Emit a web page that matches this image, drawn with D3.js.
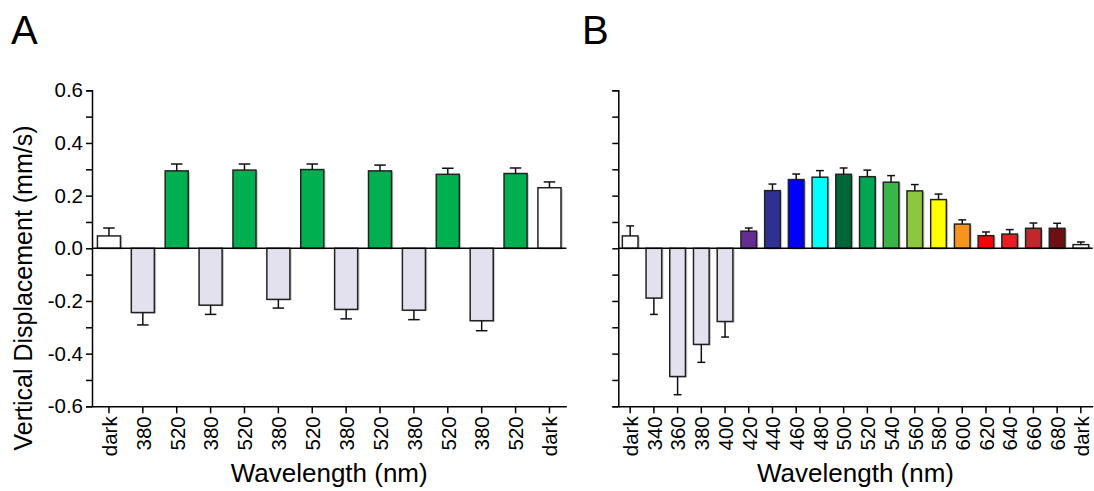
<!DOCTYPE html>
<html>
<head>
<meta charset="utf-8">
<script src="https://cdn.jsdelivr.net/npm/d3@7"></script>
<style>
  body { margin: 0; background: #fff; }
  svg text { font-family: "Liberation Sans", Arial, sans-serif; fill: #000; }
</style>
</head>
<body>
<svg id="chart" width="1094" height="491"></svg>
<script>
// panel A: alternating 380 / 520 nm
var catsA = ["dark", "380", "520", "380", "520", "380", "520", "380", "520", "380", "520", "380", "520", "dark"];
var meanA = [0.047, -0.244, 0.294, -0.216, 0.297, -0.194, 0.299, -0.232, 0.294, -0.235, 0.281, -0.275, 0.284, 0.230];
var semA  = [0.030, 0.047, 0.026, 0.035, 0.023, 0.033, 0.021, 0.036, 0.022, 0.036, 0.023, 0.038, 0.021, 0.022];

// panel B: wavelength sweep
var catsB = ["dark", "340", "360", "380", "400", "420", "440", "460", "480", "500", "520", "540", "560", "580", "600", "620", "640", "660", "680", "dark"];
var meanB = [0.047, -0.189, -0.487, -0.365, -0.278, 0.065, 0.219, 0.261, 0.270, 0.281, 0.272, 0.251, 0.218, 0.185, 0.092, 0.048, 0.054, 0.076, 0.076, 0.014];
var semB  = [0.038, 0.062, 0.069, 0.068, 0.059, 0.012, 0.025, 0.021, 0.025, 0.024, 0.025, 0.025, 0.024, 0.021, 0.016, 0.014, 0.017, 0.020, 0.019, 0.010];

var yMajor = [-0.6, -0.4, -0.2, 0, 0.2, 0.4, 0.6];
var yMinor = [-0.5, -0.3, -0.1, 0.1, 0.3, 0.5];

var lav = "#e4e1ee";
var colorA = { "dark": "#ffffff", "380": lav, "520": "#00b050" };
var colorB = {
  "dark": "#ffffff", "340": lav, "360": lav, "380": lav, "400": lav,
  "420": "#662d91", "440": "#2e3192", "460": "#0000ff", "480": "#00ffff",
  "500": "#006838", "520": "#00a651", "540": "#39b54a", "560": "#8dc63f",
  "580": "#ffff00", "600": "#f7941d", "620": "#ff0000", "640": "#ed1c24",
  "660": "#c1272d", "680": "#6e0f14"
};

var svg = d3.select("#chart");

svg.append("defs").append("clipPath").attr("id", "clipB")
  .append("rect").attr("x", 578).attr("y", 0).attr("width", 600).attr("height", 491);

function panel(opt) {
  var cats = opt.cats, mean = opt.mean, sem = opt.sem;
  var y = d3.scaleLinear().domain([-0.6, 0.6]).range([406.3, 90.3]);
  var x = d3.scaleBand().domain(d3.range(cats.length))
      .range([opt.x0, opt.x1]).paddingInner(opt.pad).paddingOuter(opt.pad / 2);

  var g = svg.append("g");

  // shadow behind bars
  g.selectAll("rect.shadow").data(mean).enter().append("rect")
    .attr("x", function(d, i) { return x(i) + 1.8; })
    .attr("y", function(d) { return Math.min(y(d), y(0)) + 1; })
    .attr("width", x.bandwidth())
    .attr("height", function(d) { return Math.abs(y(d) - y(0)); })
    .attr("fill", "#c8c8c8");

  g.selectAll("rect.bar").data(mean).enter().append("rect")
    .attr("x", function(d, i) { return x(i); })
    .attr("y", function(d) { return Math.min(y(d), y(0)); })
    .attr("width", x.bandwidth())
    .attr("height", function(d) { return Math.abs(y(d) - y(0)); })
    .attr("fill", function(d, i) { return opt.color[cats[i]]; })
    .attr("stroke", "#222").attr("stroke-width", 1.5);

  // error bars, drawn outward
  var cap = x.bandwidth() * 0.25;
  mean.forEach(function(m, i) {
    var cx = x(i) + x.bandwidth() / 2;
    var tip = m >= 0 ? m + sem[i] : m - sem[i];
    g.append("line").attr("x1", cx).attr("x2", cx).attr("y1", y(m)).attr("y2", y(tip))
      .attr("stroke", "#111").attr("stroke-width", 1.5);
    g.append("line").attr("x1", cx - cap).attr("x2", cx + cap).attr("y1", y(tip)).attr("y2", y(tip))
      .attr("stroke", "#111").attr("stroke-width", 1.5);
  });

  // zero line
  g.append("line").attr("x1", opt.x0).attr("x2", opt.x1).attr("y1", y(0)).attr("y2", y(0))
    .attr("stroke", "#000").attr("stroke-width", 1.5);

  // y axis
  var ya = g.append("g").attr("transform", "translate(" + opt.x0 + ",0)")
    .call(d3.axisLeft(y).tickValues(yMajor).tickSize(6).tickPadding(3)
      .tickFormat(function(d) { return d.toFixed(1); }));
  g.append("g").attr("transform", "translate(" + opt.x0 + ",0)")
    .call(d3.axisLeft(y).tickValues(yMinor).tickSize(6).tickFormat(""))
    .select(".domain").remove();
  ya.selectAll("text").style("font-size", "20.5px");
  if (opt.clip) ya.selectAll("text").attr("clip-path", "url(#" + opt.clip + ")");

  // x axis
  var xa = g.append("g").attr("transform", "translate(0,406.3)")
    .call(d3.axisBottom(x).tickSize(7).tickSizeOuter(0)
      .tickFormat(function(i) { return cats[i]; }));
  xa.selectAll("text")
    .attr("transform", "rotate(-90)")
    .attr("x", -10).attr("y", 0).attr("dy", "0.38em")
    .style("text-anchor", "end").style("font-size", "20.5px");

  g.selectAll(".domain, .tick line").attr("stroke", "#000").attr("stroke-width", 1.5);

  g.append("text").attr("x", (opt.x0 + opt.x1) / 2).attr("y", 482)
    .attr("text-anchor", "middle").style("font-size", "26px").text("Wavelength (nm)");

  g.append("text").attr("x", opt.labelX).attr("y", 44)
    .style("font-size", "40px").text(opt.letter);
}

panel({ cats: catsA, mean: meanA, sem: semA, color: colorA, x0: 92, x1: 566.4, pad: 0.32, letter: "A", labelX: 11 });
panel({ cats: catsB, mean: meanB, sem: semB, color: colorB, x0: 618.3, x1: 1092.7, pad: 0.34, letter: "B", labelX: 582, clip: "clipB" });

svg.append("text")
  .attr("transform", "translate(32,288) rotate(-90)")
  .attr("text-anchor", "middle").style("font-size", "25px")
  .text("Vertical Displacement (mm/s)");
</script>
</body>
</html>
